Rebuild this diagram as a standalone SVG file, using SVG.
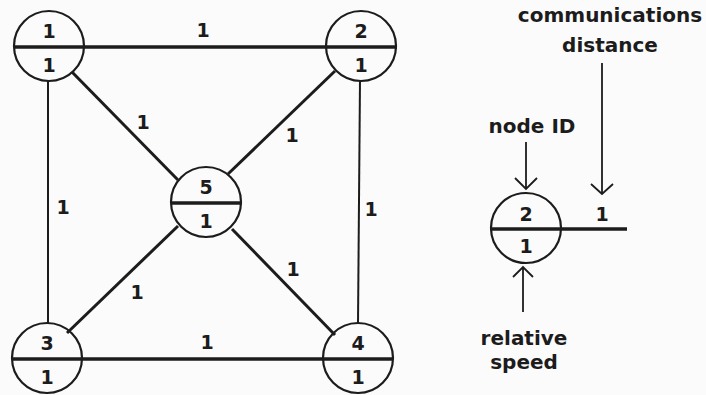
<svg xmlns="http://www.w3.org/2000/svg" width="706" height="395" viewBox="0 0 706 395">
<defs>
<style>
.c{fill:none;stroke:#1c1c1c;stroke-width:2.2}
.d{stroke:#1c1c1c;stroke-width:3.5}
.e{stroke:#1c1c1c;stroke-width:3;fill:none}
.v{stroke:#1c1c1c;stroke-width:2;fill:none}
.n{font-family:"DejaVu Sans",sans-serif;font-weight:bold;font-size:19px;fill:#1c1c1c;text-anchor:middle}
.t{font-family:"DejaVu Sans",sans-serif;font-weight:bold;font-size:20px;fill:#1c1c1c;text-anchor:middle}
.a{stroke:#1c1c1c;stroke-width:1.8;fill:none}
</style>
</defs>
<rect width="706" height="395" fill="#fbfbfb"/>
<g id="connectors">
<line class="d" x1="14" y1="47" x2="397" y2="47"/>
<line class="d" x1="12" y1="359" x2="393" y2="359"/>
<line class="v" x1="48" y1="80" x2="48" y2="324"/>
<line class="v" x1="360" y1="80" x2="358" y2="324"/>
<line class="e" x1="72" y1="72" x2="178" y2="180"/>
<line class="e" x1="335" y1="71" x2="228" y2="174"/>
<line class="e" x1="178" y1="226" x2="67" y2="333"/>
<line class="e" x1="232" y1="229" x2="335" y2="335"/>
<text class="n" x="203" y="37">1</text>
<text class="n" x="143" y="129">1</text>
<text class="n" x="292" y="142">1</text>
<text class="n" x="63" y="214">1</text>
<text class="n" x="371" y="216">1</text>
<text class="n" x="137" y="299">1</text>
<text class="n" x="293" y="276">1</text>
<text class="n" x="207" y="349">1</text>
</g>
<g id="node1">
<circle class="c" cx="49" cy="46" r="35"/>
<text class="n" x="49" y="38">1</text>
<text class="n" x="49" y="72">1</text>
</g>
<g id="node2">
<circle class="c" cx="361" cy="46" r="35"/>
<text class="n" x="361" y="38">2</text>
<text class="n" x="361" y="72">1</text>
</g>
<g id="node5">
<circle class="c" cx="206" cy="202" r="35"/>
<line class="d" x1="171" y1="203" x2="242" y2="203"/>
<text class="n" x="206" y="194">5</text>
<text class="n" x="206" y="228">1</text>
</g>
<g id="node3">
<circle class="c" cx="47" cy="358" r="35"/>
<text class="n" x="47" y="350">3</text>
<text class="n" x="47" y="384">1</text>
</g>
<g id="node4">
<circle class="c" cx="358" cy="358" r="35"/>
<text class="n" x="358" y="350">4</text>
<text class="n" x="358" y="384">1</text>
</g>
<g id="legend">
<circle class="c" cx="526" cy="228" r="35"/>
<line class="d" x1="490" y1="229" x2="627" y2="229"/>
<text class="n" x="526" y="221">2</text>
<text class="n" x="526" y="253">1</text>
<text class="n" x="602" y="221">1</text>
<text class="t" x="610" y="22">communications</text>
<text class="t" x="610" y="52">distance</text>
<text class="t" x="532" y="133">node ID</text>
<text class="t" x="524" y="345">relative</text>
<text class="t" x="524" y="369">speed</text>
<path class="a" d="M526 142 V189 M515 178 L526 189 L537 178"/>
<path class="a" d="M602 63 V194 M591 184 L602 194 L613 184"/>
<path class="a" d="M523 312 V267 M513 277 L523 267 L533 277"/>
</g>
</svg>
